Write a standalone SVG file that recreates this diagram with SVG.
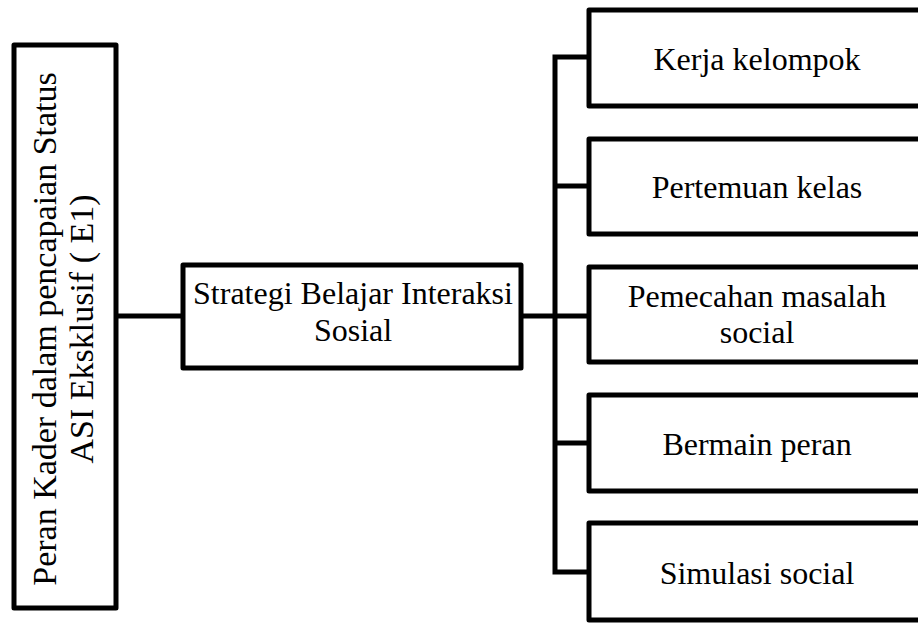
<svg xmlns="http://www.w3.org/2000/svg" width="918" height="624" viewBox="0 0 918 624">
<style>
.box{fill:#fff;stroke:#000;stroke-width:5;stroke-linejoin:round}
.t{font-family:"Liberation Serif","Times New Roman",serif;font-size:32px;fill:#000;text-anchor:middle}
.tv{font-size:34px}
.c{fill:none;stroke:#000;stroke-width:5}
</style>
<rect width="918" height="624" fill="#fff"/>
<g id="connectors">
<path class="c" d="M116,316 H183"/>
<path class="c" d="M521,316 H555" stroke-width="6"/>
<path class="c" d="M589,57 H555 V572 H589"/>
<path class="c" d="M555,186 H589 M555,316 H589 M555,443 H589"/>
</g>
<g id="n-peran">
<rect class="box" x="14" y="45" width="102" height="563"/>
<text class="t tv" transform="translate(56,329) rotate(-90)">Peran Kader dalam pencapaian Status</text>
<text class="t tv" transform="translate(93,329) rotate(-90)">ASI Eksklusif ( E1)</text>
</g>
<g id="n-strategi">
<rect class="box" x="183" y="265" width="338" height="103"/>
<text class="t" x="353" y="304">Strategi Belajar Interaksi</text>
<text class="t" x="353" y="341">Sosial</text>
</g>
<g id="n-kerja">
<rect class="box" x="589" y="10" width="340" height="96"/>
<text class="t" x="757" y="70">Kerja kelompok</text>
</g>
<g id="n-pertemuan">
<rect class="box" x="589" y="139" width="340" height="95"/>
<text class="t" x="757" y="198">Pertemuan kelas</text>
</g>
<g id="n-pemecahan">
<rect class="box" x="589" y="267" width="340" height="95"/>
<text class="t" x="757" y="307">Pemecahan masalah</text>
<text class="t" x="757" y="343">social</text>
</g>
<g id="n-bermain">
<rect class="box" x="589" y="395" width="340" height="96"/>
<text class="t" x="757" y="455">Bermain peran</text>
</g>
<g id="n-simulasi">
<rect class="box" x="589" y="523" width="340" height="97"/>
<text class="t" x="757" y="584">Simulasi social</text>
</g>
</svg>
